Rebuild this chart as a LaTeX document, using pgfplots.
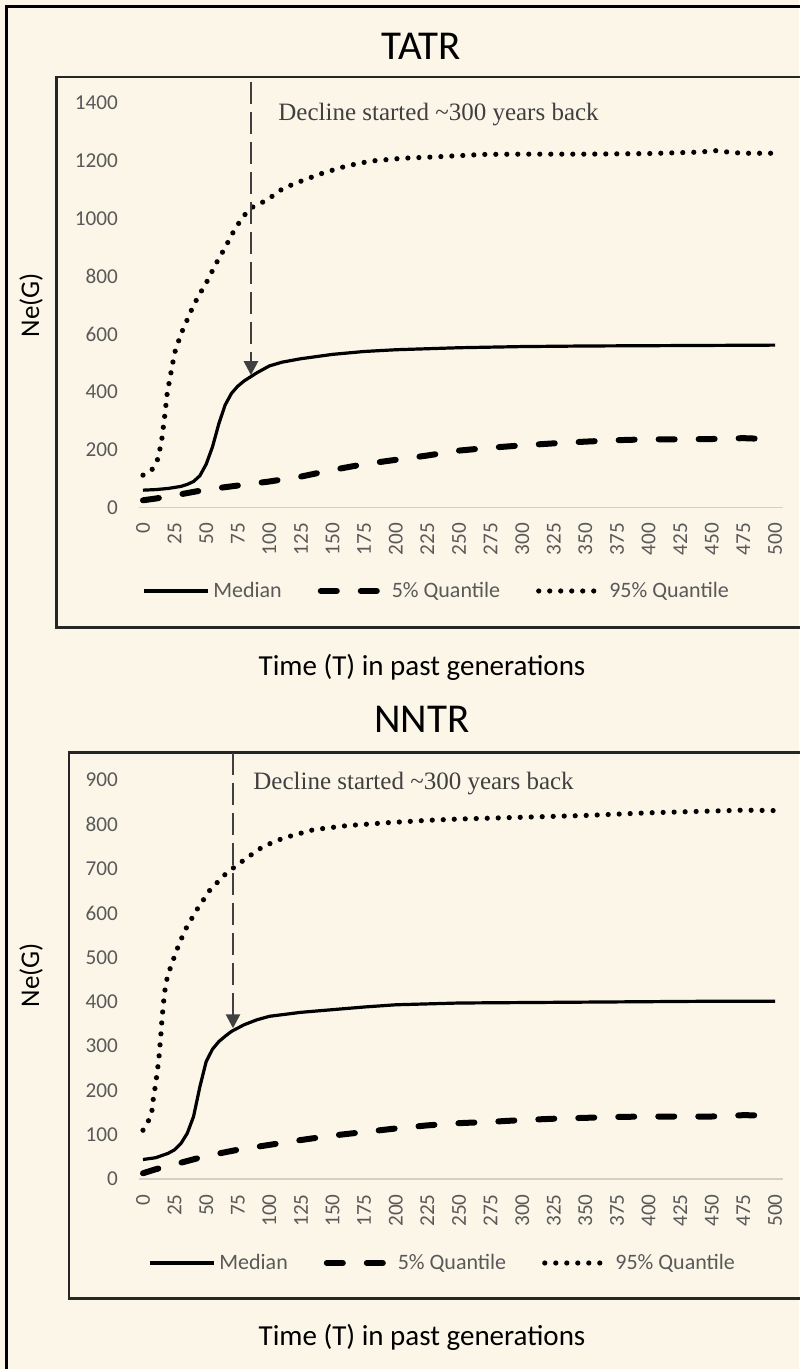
\documentclass[border=0pt]{standalone}
\usepackage{fontspec}
\setmainfont{Carlito}
\newfontfamily\notefont{Liberation Serif}
\usepackage{pgfplots}
\usepackage{pgfplotstable}
\pgfplotsset{compat=1.18}
\usetikzlibrary{arrows.meta}

\definecolor{paper}{HTML}{FCF6E9}
\definecolor{tickgray}{HTML}{595959}
\definecolor{notegray}{HTML}{404040}
\definecolor{axisgray}{HTML}{D3CFC7}

% ---- TATR ----
\pgfplotstableread{
T Ne
0 60
10 62
20 66
30 73
35 80
40 90
45 110
50 150
55 210
60 290
65 355
70 395
75 420
80 438
85 452
90 466
100 490
110 503
125 515
150 530
175 540
200 546
250 553
300 557
350 559
400 560
450 561
500 562
}\tatrmed
\pgfplotstableread{
T Ne
0 25
10 31
25 42
50 62
75 76
100 90
125 107
150 130
175 150
200 165
225 180
250 197
275 207
300 215
325 222
350 228
375 233
400 236
425 236
450 237
475 240
500 236
}\tatrlow
\pgfplotstableread{
T Ne
0 112
7 130
12 170
15 240
17 310
19 390
21 440
25 535
30 600
35 650
40 700
45 740
50 777
58 846
65 900
71 950
78 1000
85 1036
98 1064
111 1105
127 1133
142 1157
161 1182
180 1199
206 1209
229 1213
269 1222
300 1223
350 1223
400 1225
440 1230
453 1235
465 1229
475 1226
500 1226
}\tatrhigh

% ---- NNTR ----
\pgfplotstableread{
T Ne
0 44
10 48
20 58
25 66
30 80
35 103
40 141
45 208
50 265
55 293
60 310
65 322
70 333
80 348
90 359
100 367
125 376
150 382
175 388
200 393
250 397
300 398
350 399
400 400
450 401
500 401
}\nntrmed
\pgfplotstableread{
T Ne
0 13
10 22
25 33
50 52
75 66
100 77
125 88
150 98
175 106
200 114
225 121
250 126
275 129
300 133
325 136
350 138
375 140
400 141
425 141
450 141
475 144
500 143
}\nntrlow
\pgfplotstableread{
T Ne
0 110
4 129
7 152
8 178
9.5 205
11 235
12.5 270
14 320
15 360
17 420
19 452
21.5 475
26.5 515
33 560
42.5 607
53 652
66 690
73 705
82 724
95 750
111 769
135 788
161 797
195 804
225 809
250 812
275 814
300 816
325 818
350 820
375 823
400 826
425 828
450 830
475 832
500 831
}\nntrhigh

\pgfplotsset{
  med/.style={black, line width=1.6pt, line join=round},
  qlow/.style={black, line width=3pt, line cap=round, line join=round, dash pattern=on 8pt off 12pt},
  qhigh/.style={black, line width=2.6pt, line cap=round, dash pattern=on 0pt off 5.5pt},
  panel/.style={
    scale only axis,
    width=321.7pt,
    xmin=-3, xmax=506, ymin=0,
    axis x line=bottom, axis y line=left,
    x axis line style={-, draw=axisgray, line width=0.9pt},
    y axis line style={draw=none},
    major tick length=0pt,
    xtick={0,25,...,500},
    /pgf/number format/assume math mode=true,
    /pgf/number format/1000 sep={},
    ticklabel style={font=\fontsize{10.6}{12}\selectfont, text=tickgray},
    xticklabel style={rotate=90, anchor=east, inner sep=0pt},
    xticklabel shift=7.5pt,
    yticklabel style={anchor=east, inner sep=0pt},
    yticklabel shift=10.5pt,
    clip=false,
    legend columns=3,
    legend cell align=left,
    legend image code/.code={\draw[##1] (0pt,0pt) -- (32pt,0pt);},
    legend style={draw=none, fill=none, anchor=center,
      font=\fontsize{11}{13}\selectfont, text=tickgray,
      /tikz/every even column/.append style={column sep=16pt}},
  },
}

\begin{document}
\begin{tikzpicture}[x=0.5pt, y=-0.5pt]
  \path[use as bounding box] (0,0) rectangle (799,1369);
  \fill[paper] (0,0) rectangle (799,1369);

  % frames
  \draw[black, line width=1.5pt] (6.5,1380) -- (6.5,6.5) -- (812,6.5);
  \draw[black!85, line width=1.1pt] (812,77) -- (56.5,77) -- (56.5,627.5) -- (812,627.5);
  \draw[black!85, line width=1.1pt] (812,752.5) -- (69,752.5) -- (69,1298.5) -- (812,1298.5);

  % titles and axis labels
  \node[anchor=base, inner sep=0pt, font=\fontsize{20.5}{24}\selectfont] at (421,60) {TATR};
  \node[anchor=base, inner sep=0pt, font=\fontsize{20.5}{24}\selectfont] at (422,732) {NNTR};
  \node[anchor=base, inner sep=0pt, font=\fontsize{14.5}{17}\selectfont] at (422,675) {Time (T) in past generations};
  \node[anchor=base, inner sep=0pt, font=\fontsize{14.5}{17}\selectfont] at (422,1345) {Time (T) in past generations};
  \node[rotate=90, inner sep=0pt, font=\fontsize{13.5}{15}\selectfont] at (31,305) {Ne(G)};
  \node[rotate=90, inner sep=0pt, font=\fontsize{13.5}{15}\selectfont] at (31,975) {Ne(G)};

  \coordinate (topSW) at (139.2,507.5);
  \coordinate (botSW) at (139.2,1179);

  % upper panel
  \begin{axis}[panel, at={(topSW)}, anchor=south west,
      height=202.25pt, ymax=1400, ytick={0,200,...,1400},
      legend style={at={(axis description cs:0.4636,-0.2064)}}]
    \addplot[med] table[x=T, y=Ne] {\tatrmed};
    \addlegendentry{Median}
    \addplot[qlow] table[x=T, y=Ne] {\tatrlow};
    \addlegendentry{5\% Quantile}
    \addplot[qhigh] table[x=T, y=Ne] {\tatrhigh};
    \addlegendentry{95\% Quantile}
    \draw[notegray, line width=1.3pt, dash pattern=on 11pt off 4pt,
      -{Triangle[width=7pt, length=7pt]}] (axis cs:85.4,1474) -- (axis cs:85.4,458);
    \node[anchor=base west, inner sep=0pt, text=notegray,
      font=\notefont\fontsize{12.5}{14}\selectfont] at (axis cs:106.8,1338)
      {Decline started \textasciitilde300 years back};
  \end{axis}

  % lower panel
  \begin{axis}[panel, at={(botSW)}, anchor=south west,
      height=199.5pt, ymax=900, ytick={0,100,...,900},
      legend style={at={(axis description cs:0.473,-0.2105)}}]
    \addplot[med] table[x=T, y=Ne] {\nntrmed};
    \addlegendentry{Median}
    \addplot[qlow] table[x=T, y=Ne] {\nntrlow};
    \addlegendentry{5\% Quantile}
    \addplot[qhigh] table[x=T, y=Ne] {\nntrhigh};
    \addlegendentry{95\% Quantile}
    \draw[notegray, line width=1.3pt, dash pattern=on 11pt off 4pt,
      -{Triangle[width=7pt, length=7pt]}] (axis cs:71.2,961) -- (axis cs:71.2,340);
    \node[anchor=base west, inner sep=0pt, text=notegray,
      font=\notefont\fontsize{12.5}{14}\selectfont] at (axis cs:87,879)
      {Decline started \textasciitilde300 years back};
  \end{axis}
\end{tikzpicture}
\end{document}
